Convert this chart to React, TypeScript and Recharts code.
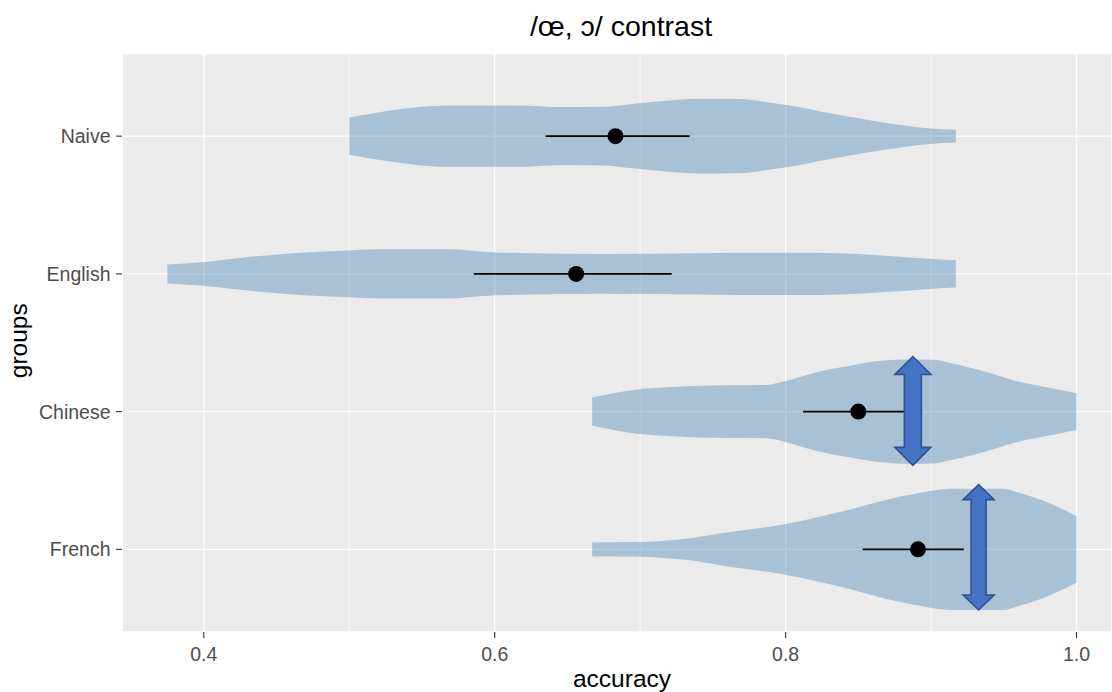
import { ComposedChart, Area, Scatter, ErrorBar, XAxis, YAxis, CartesianGrid, ReferenceLine } from 'recharts';

// groups from bottom (y = 1) to top (y = 4)
const GROUPS = ['French', 'Chinese', 'English', 'Naive'];
const X_TICKS = [0.4, 0.6, 0.8, 1.0];
const X_MINOR = [0.5, 0.7, 0.9];

// violin outlines: accuracy and half width (in group units)
const NAIVE_ACC = [0.5, 0.521, 0.548, 0.566, 0.616, 0.645, 0.676, 0.689, 0.71, 0.741, 0.768, 0.791, 0.81, 0.825, 0.842, 0.868, 0.898, 0.917];
const NAIVE_HW = [0.135, 0.174, 0.211, 0.223, 0.223, 0.211, 0.214, 0.227, 0.249, 0.271, 0.269, 0.24, 0.209, 0.177, 0.145, 0.098, 0.058, 0.047];
const ENGLISH_ACC = [0.375, 0.398, 0.425, 0.466, 0.5, 0.519, 0.569, 0.592, 0.626, 0.672, 0.74, 0.768, 0.817, 0.856, 0.876, 0.894, 0.909, 0.917];
const ENGLISH_HW = [0.069, 0.084, 0.116, 0.153, 0.169, 0.178, 0.178, 0.16, 0.149, 0.145, 0.149, 0.153, 0.153, 0.14, 0.126, 0.113, 0.102, 0.099];
const CHINESE_ACC = [0.667, 0.698, 0.722, 0.749, 0.787, 0.799, 0.822, 0.845, 0.861, 0.882, 0.902, 0.914, 0.937, 0.96, 0.983, 1.0];
const CHINESE_HW = [0.102, 0.16, 0.178, 0.189, 0.194, 0.218, 0.287, 0.334, 0.363, 0.378, 0.376, 0.352, 0.291, 0.218, 0.169, 0.133];
const FRENCH_ACC = [0.667, 0.701, 0.717, 0.733, 0.758, 0.799, 0.822, 0.845, 0.868, 0.891, 0.914, 0.949, 0.96, 0.983, 1.0];
const FRENCH_HW = [0.051, 0.053, 0.062, 0.078, 0.12, 0.182, 0.233, 0.291, 0.356, 0.407, 0.44, 0.44, 0.412, 0.327, 0.242];

// mean and interval, same order as GROUPS
const MEAN = [0.891, 0.85, 0.656, 0.683];
const LOW = [0.853, 0.812, 0.5856, 0.635];
const HIGH = [0.9225, 0.882, 0.7217, 0.734];

// blue double arrows (Chinese, French)
const ARROW_X = [0.8875, 0.9327];
const ARROW_FROM = [1.61, 0.56];
const ARROW_TO = [2.4, 1.47];
const ARROW_SIZE = [
  { head: 18, headHalf: 18, shaftHalf: 8.5 },
  { head: 15, headHalf: 15.5, shaftHalf: 7.5 },
];

const VIOLINS = [
  { key: 'french', acc: FRENCH_ACC, hw: FRENCH_HW, pos: 1 },
  { key: 'chinese', acc: CHINESE_ACC, hw: CHINESE_HW, pos: 2 },
  { key: 'english', acc: ENGLISH_ACC, hw: ENGLISH_HW, pos: 3 },
  { key: 'naive', acc: NAIVE_ACC, hw: NAIVE_HW, pos: 4 },
];

const rowMap = new Map<number, any>();
VIOLINS.forEach(v => {
  v.acc.forEach((a, i) => {
    const row = rowMap.get(a) ?? { x: a };
    row[v.key] = [v.pos - v.hw[i], v.pos + v.hw[i]];
    rowMap.set(a, row);
  });
});
const violinData = [...rowMap.values()].sort((a, b) => a.x - b.x);

const pointData = MEAN.map((m, i) => ({ x: m, y: i + 1, err: [m - LOW[i], HIGH[i] - m] }));

const X_DOMAIN = [0.34375, 1.0244];

const MeanDot = (p: any) => <circle cx={p.cx} cy={p.cy} r={8} fill="#000000" />;

const DoubleArrow = ({ x1, y1, y2, size }: any) => {
  const top = Math.min(y1, y2);
  const bot = Math.max(y1, y2);
  const { head, headHalf, shaftHalf } = size;
  const pts = [
    [x1, top], [x1 + headHalf, top + head], [x1 + shaftHalf, top + head],
    [x1 + shaftHalf, bot - head], [x1 + headHalf, bot - head], [x1, bot],
    [x1 - headHalf, bot - head], [x1 - shaftHalf, bot - head],
    [x1 - shaftHalf, top + head], [x1 - headHalf, top + head],
  ].map(p => p.join(',')).join(' ');
  return <polygon points={pts} fill="#4472C4" stroke="#2F528F" strokeWidth={1.6} strokeLinejoin="miter" />;
};

const XTitle = ({ viewBox }: any) => (
  <text x={viewBox.x + 500} y={viewBox.y + 55} textAnchor="middle" fontSize={24.5} fill="#000">accuracy</text>
);

const YTitle = ({ viewBox }: any) => {
  const x = viewBox.x + 26.5;
  const y = viewBox.y + viewBox.height / 2 - 2;
  return (
    <text x={x} y={y} textAnchor="middle" fontSize={24.5} fill="#000" transform={`rotate(-90, ${x}, ${y})`}>groups</text>
  );
};

export default function App() {
  return (
    <div style={{ position: 'absolute', left: 0, top: 0, width: 1112, height: 692, background: '#fff', fontFamily: '"Liberation Sans", Arial, sans-serif' }}>
      <ComposedChart width={1112} height={692} data={violinData} margin={{ top: 53.5, right: 0, bottom: 0, left: 0 }}>
        <CartesianGrid fill="#EBEBEB" stroke="#FFFFFF" strokeWidth={1.4} />
        <CartesianGrid xAxisId="minor" horizontal={false} stroke="#FFFFFF" strokeWidth={0.8} />
        <XAxis
          dataKey="x"
          type="number"
          domain={X_DOMAIN}
          allowDataOverflow
          ticks={X_TICKS}
          interval={0}
          tickFormatter={(v: number) => v.toFixed(1)}
          height={60}
          tickSize={6}
          tickMargin={9}
          axisLine={false}
          tickLine={{ stroke: '#333333', strokeWidth: 1.1 }}
          tick={{ fill: '#4D4D4D', fontSize: 19.5 }}
          label={{ content: XTitle }}
        />
        <XAxis xAxisId="minor" dataKey="x" type="number" domain={X_DOMAIN} allowDataOverflow ticks={X_MINOR} hide />
        <YAxis
          dataKey="y"
          type="number"
          domain={[0.4, 4.6]}
          allowDataOverflow
          ticks={[1, 2, 3, 4]}
          interval={0}
          tickFormatter={(v: number) => GROUPS[v - 1]}
          width={122}
          tickSize={6}
          tickMargin={5.5}
          axisLine={false}
          tickLine={{ stroke: '#333333', strokeWidth: 1.1 }}
          tick={{ fill: '#4D4D4D', fontSize: 19.5 }}
          label={{ content: YTitle }}
        />
        {VIOLINS.map(v => (
          <Area
            key={v.key}
            dataKey={v.key}
            type="monotone"
            stroke="none"
            fill="#4682B4"
            fillOpacity={0.4}
            connectNulls
            dot={false}
            activeDot={false}
            isAnimationActive={false}
          />
        ))}
        <Scatter data={pointData} shape={MeanDot} isAnimationActive={false}>
          <ErrorBar dataKey="err" direction="x" width={0} stroke="#000000" strokeWidth={1.8} isAnimationActive={false} />
        </Scatter>
        {ARROW_X.map((ax, i) => (
          <ReferenceLine
            key={i}
            segment={[{ x: ax, y: ARROW_FROM[i] }, { x: ax, y: ARROW_TO[i] }]}
            shape={(p: any) => <DoubleArrow {...p} size={ARROW_SIZE[i]} />}
            zIndex={1500}
          />
        ))}
      </ComposedChart>
      <svg width={1112} height={692} style={{ position: 'absolute', left: 0, top: 0, pointerEvents: 'none' }}>
        <text x={621} y={36} textAnchor="middle" fontSize={28.5} fill="#000">/œ, ɔ/ contrast</text>
      </svg>
    </div>
  );
}
